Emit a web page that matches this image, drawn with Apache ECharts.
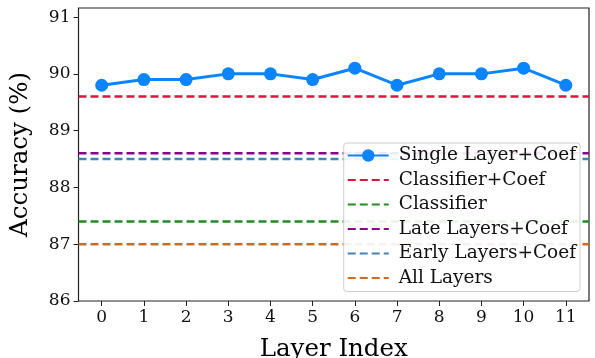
<!DOCTYPE html>
<html><head><meta charset="utf-8">
<script src="https://cdn.jsdelivr.net/npm/echarts@6/dist/echarts.min.js"></script>
<style>html,body{margin:0;padding:0;background:#fff}#c{width:595px;height:358px}</style>
</head><body><div id="c"></div>
<script>
const layers = [0,1,2,3,4,5,6,7,8,9,10,11];
const singleLayerCoef = [89.8,89.9,89.9,90.0,90.0,89.9,90.1,89.8,90.0,90.0,90.1,89.8];
const baselineNames = ['Classifier+Coef','Classifier','Late Layers+Coef','Early Layers+Coef','All Layers'];
const baselineValues = [89.6,87.4,88.6,88.5,87.0];
const baselineColors = ['#dc143c','#228b22','#8b008b','#4682b4','#d2691e'];
const yTicks = [86,87,88,89,90,91];
const xMin = -0.55, xMax = 11.55;
const yMin = 86, yMax = 91.16;

const font = 'DejaVu Serif';
const series = [{
  name: 'Single Layer+Coef', type: 'line',
  data: layers.map((x,i)=>[x, singleLayerCoef[i]]),
  symbol: 'circle', symbolSize: 13,
  lineStyle: {color:'#0a84ff', width: 3},
  itemStyle: {color:'#0a84ff'},
  z: 5
}];
baselineNames.forEach((n,i)=>{
  series.push({
    name: n, type:'line', symbol:'none',
    data: [[xMin, baselineValues[i]],[xMax, baselineValues[i]]],
    lineStyle:{color: baselineColors[i], width: 2.5, type:[8,4]},
    itemStyle:{color: 'rgba(0,0,0,0)', borderWidth:0},
    z: 3
  });
});
const chart = echarts.init(document.getElementById('c'), null, {renderer:'canvas'});
chart.setOption({
  animation:false,
  textStyle:{fontFamily:font},
  grid:{left:78.5, right:6, top:8, bottom:57, containLabel:false, outerBoundsMode:'none',
    show:true, borderColor:'#222', borderWidth:1.2, backgroundColor:'transparent'},
  xAxis:{type:'value', min:xMin, max:xMax,
    name:'Layer Index', nameLocation:'middle', nameGap:36,
    nameTextStyle:{fontFamily:font, fontSize:24.5, color:'#000'},
    axisLine:{show:false, onZero:false},
    axisTick:{show:true, customValues: layers, length:5, inside:false, lineStyle:{color:'#222'}},
    axisLabel:{customValues: layers, fontFamily:font, fontSize:17, color:'#111', margin:8},
    splitLine:{show:false}
  },
  yAxis:{type:'value', min:yMin, max:yMax,
    name:'Accuracy (%)', nameLocation:'middle', nameGap:45,
    nameTextStyle:{fontFamily:font, fontSize:24.5, color:'#000'},
    axisLine:{show:false, onZero:false},
    axisTick:{show:true, customValues: yTicks, length:5, lineStyle:{color:'#222'}},
    axisLabel:{customValues: yTicks, fontFamily:font, fontSize:17, color:'#111', margin:8},
    splitLine:{show:false}
  },
  legend:{
    orient:'vertical', right:15, top:143,
    backgroundColor:'rgba(255,255,255,0.9)', borderColor:'#ccc', borderWidth:1, borderRadius:3,
    padding:[3,4,4,3], itemWidth:41, itemHeight:15.5, itemGap:5.5,
    textStyle:{fontFamily:font, fontSize:18.5, color:'#111', padding:[0,0,0,5]},
    data: ['Single Layer+Coef'].concat(baselineNames)
  },
  series: series
});
</script></body></html>
